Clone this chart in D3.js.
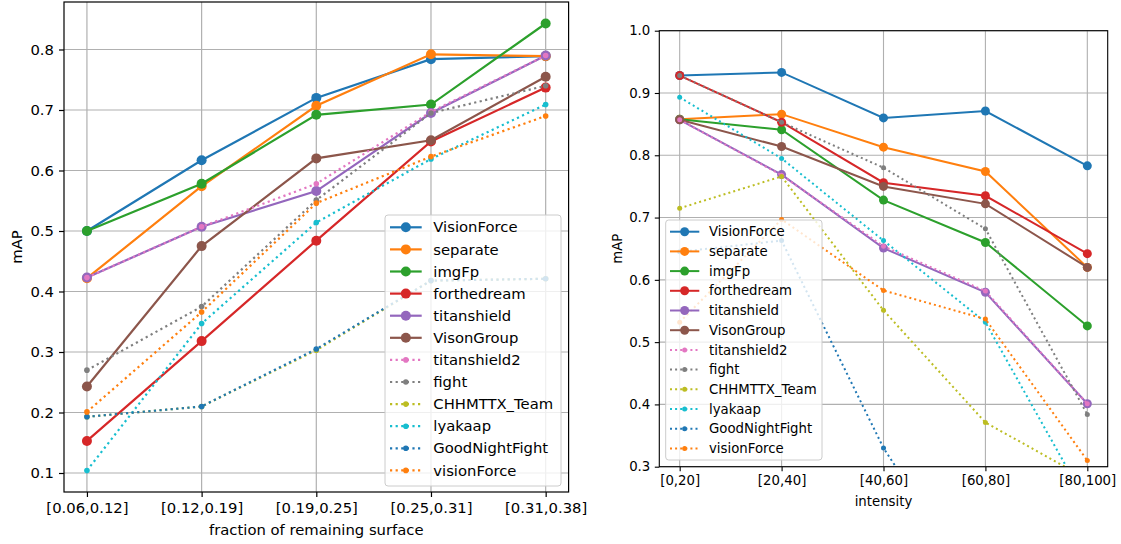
<!DOCTYPE html>
<html>
<head>
<meta charset="utf-8">
<script src="https://cdn.jsdelivr.net/npm/d3@7"></script>
<style>
  body { margin: 0; background: #fff; }
  svg { display: block; }
  text { font-family: "DejaVu Sans", sans-serif; fill: #000; }
</style>
</head>
<body>
<svg id="chart" width="1121" height="544"></svg>
<script>
// teams, in plotting order (tab10 colours, last six drawn dotted)
var teams = ["VisionForce", "separate", "imgFp", "forthedream", "titanshield", "VisonGroup",
             "titanshield2", "fight", "CHHMTTX_Team", "lyakaap", "GoodNightFight", "visionForce"];
var teamColors = ["#1f77b4", "#ff7f0e", "#2ca02c", "#d62728", "#9467bd", "#8c564b",
                  "#e377c2", "#7f7f7f", "#bcbd22", "#17becf", "#1f77b4", "#ff7f0e"];
var dottedTeams = ["titanshield2", "fight", "CHHMTTX_Team", "lyakaap", "GoodNightFight", "visionForce"];

// left panel: mAP vs fraction of remaining surface
var surfaceBins = ["[0.06,0.12]", "[0.12,0.19]", "[0.19,0.25]", "[0.25,0.31]", "[0.31,0.38]"];
var surfaceMAP = [
  [0.500, 0.617, 0.720, 0.784, 0.789],  // VisionForce
  [0.422, 0.574, 0.707, 0.792, 0.789],  // separate
  [0.500, 0.578, 0.692, 0.709, 0.843],  // imgFp
  [0.153, 0.318, 0.484, 0.648, 0.737],  // forthedream
  [0.423, 0.507, 0.566, 0.695, 0.790],  // titanshield
  [0.243, 0.475, 0.620, 0.650, 0.755],  // VisonGroup
  [0.423, 0.507, 0.578, 0.697, 0.790],  // titanshield2
  [0.270, 0.375, 0.551, 0.695, 0.740],  // fight
  [0.193, 0.210, 0.303, 0.418, 0.421],  // CHHMTTX_Team
  [0.104, 0.347, 0.514, 0.619, 0.709],  // lyakaap
  [0.193, 0.210, 0.305, 0.418, 0.421],  // GoodNightFight
  [0.201, 0.366, 0.546, 0.623, 0.690]   // visionForce
];
var surfaceTicks = [0.1, 0.2, 0.3, 0.4, 0.5, 0.6, 0.7, 0.8];

// right panel: mAP vs intensity
var intensityBins = ["[0,20]", "[20,40]", "[40,60]", "[60,80]", "[80,100]"];
var intensityMAP = [
  [0.928, 0.933, 0.860, 0.871, 0.783],  // VisionForce
  [0.858, 0.866, 0.813, 0.774, 0.620],  // separate
  [0.858, 0.841, 0.728, 0.660, 0.526],  // imgFp
  [0.928, 0.853, 0.756, 0.735, 0.642],  // forthedream
  [0.857, 0.769, 0.651, 0.580, 0.401],  // titanshield
  [0.857, 0.814, 0.750, 0.722, 0.620],  // VisonGroup
  [0.857, 0.768, 0.654, 0.582, 0.401],  // titanshield2
  [0.928, 0.853, 0.780, 0.682, 0.384],  // fight
  [0.715, 0.766, 0.551, 0.371, 0.280],  // CHHMTTX_Team
  [0.893, 0.795, 0.663, 0.532, 0.240],  // lyakaap
  [0.645, 0.663, 0.330, 0.080, 0.050],  // GoodNightFight
  [0.532, 0.697, 0.583, 0.537, 0.310]   // visionForce
];
var intensityTicks = [0.3, 0.4, 0.5, 0.6, 0.7, 0.8, 0.9, 1.0];

var svg = d3.select("#chart");

function drawPanel(p) {
  var g = svg.append("g");
  var fs = p.fontSize;

  var x = d3.scalePoint()
      .domain(p.bins)
      .range([p.left, p.right])
      .padding(0.2);

  var y = d3.scaleLinear()
      .domain(p.yDomain)
      .range([p.bottom, p.top]);

  // grid
  g.append("g").selectAll("line.gx")
    .data(p.bins).enter().append("line")
      .attr("x1", function(d) { return x(d); })
      .attr("x2", function(d) { return x(d); })
      .attr("y1", p.top).attr("y2", p.bottom)
      .attr("stroke", "#b0b0b0").attr("stroke-width", p.gridWidth);
  g.append("g").selectAll("line.gy")
    .data(p.yTicks).enter().append("line")
      .attr("x1", p.left).attr("x2", p.right)
      .attr("y1", function(d) { return y(d); })
      .attr("y2", function(d) { return y(d); })
      .attr("stroke", "#b0b0b0").attr("stroke-width", p.gridWidth);

  // axes
  var xAxis = g.append("g")
      .attr("transform", "translate(0," + p.bottom + ")")
      .call(d3.axisBottom(x).tickSize(p.tickLen).tickPadding(p.tickPad));
  var yAxis = g.append("g")
      .attr("transform", "translate(" + p.left + ",0)")
      .call(d3.axisLeft(y).tickValues(p.yTicks).tickFormat(d3.format(".1f"))
            .tickSize(p.tickLen).tickPadding(p.tickPad));
  [xAxis, yAxis].forEach(function(a) {
    a.select(".domain").remove();
    a.selectAll("line").attr("stroke", "#000").attr("stroke-width", p.gridWidth);
    a.selectAll("text").style("font-size", fs + "px").style("font-family", "DejaVu Sans");
  });

  // lines, clipped to the axes box
  var clipId = "clip" + p.id;
  g.append("clipPath").attr("id", clipId)
    .append("rect")
      .attr("x", p.left).attr("y", p.top)
      .attr("width", p.right - p.left).attr("height", p.bottom - p.top);
  var plot = g.append("g").attr("clip-path", "url(#" + clipId + ")");

  var line = d3.line()
      .x(function(d, i) { return x(p.bins[i]); })
      .y(function(d) { return y(d); });

  teams.forEach(function(name, k) {
    var dotted = dottedTeams.indexOf(name) >= 0;
    var vals = p.values[k];
    plot.append("path")
        .datum(vals)
        .attr("d", line)
        .attr("fill", "none")
        .attr("stroke", teamColors[k])
        .attr("stroke-width", dotted ? p.dotWidth : p.lineWidth)
        .attr("stroke-dasharray", dotted ? p.dash : null);
    plot.selectAll(null)
        .data(vals).enter().append("circle")
          .attr("cx", function(d, i) { return x(p.bins[i]); })
          .attr("cy", function(d) { return y(d); })
          .attr("r", dotted ? p.smallR : p.bigR)
          .attr("fill", teamColors[k]);
  });

  // frame
  g.append("rect")
      .attr("x", p.left).attr("y", p.top)
      .attr("width", p.right - p.left).attr("height", p.bottom - p.top)
      .attr("fill", "none").attr("stroke", "#000").attr("stroke-width", p.gridWidth);

  // axis labels
  g.append("text")
      .attr("x", (p.left + p.right) / 2).attr("y", p.xLabelY)
      .attr("text-anchor", "middle")
      .style("font-size", fs + "px")
      .text(p.xLabel);
  g.append("text")
      .attr("transform", "translate(" + p.yLabelX + "," + ((p.top + p.bottom) / 2) + ") rotate(-90)")
      .attr("text-anchor", "middle")
      .attr("dy", "0.35em")
      .style("font-size", fs + "px")
      .text("mAP");

  // legend
  var lg = g.append("g");
  lg.append("rect")
      .attr("x", p.legend.x).attr("y", p.legend.y)
      .attr("width", p.legend.w).attr("height", p.legend.h)
      .attr("rx", 3)
      .attr("fill", "#fff").attr("fill-opacity", 0.8)
      .attr("stroke", "#cccccc").attr("stroke-width", 1);
  teams.forEach(function(name, k) {
    var dotted = dottedTeams.indexOf(name) >= 0;
    var cy = p.legend.firstRow + k * p.legend.rowStep;
    var hx0 = p.legend.x + p.legend.handlePad;
    var hx1 = hx0 + p.legend.handleLen;
    lg.append("line")
        .attr("x1", hx0).attr("x2", hx1)
        .attr("y1", cy).attr("y2", cy)
        .attr("stroke", teamColors[k])
        .attr("stroke-width", dotted ? p.dotWidth : p.lineWidth)
        .attr("stroke-dasharray", dotted ? p.dash : null);
    lg.append("circle")
        .attr("cx", (hx0 + hx1) / 2).attr("cy", cy)
        .attr("r", dotted ? p.smallR : p.bigR)
        .attr("fill", teamColors[k]);
    lg.append("text")
        .attr("x", hx1 + p.legend.textGap).attr("y", cy)
        .attr("dy", "0.35em")
        .style("font-size", fs + "px")
        .text(name);
  });
}

drawPanel({
  id: "L", bins: surfaceBins, values: surfaceMAP, yTicks: surfaceTicks,
  yDomain: [0.0686, 0.8785],
  left: 64, right: 568.6, top: 2, bottom: 492,
  fontSize: 14.8, tickLen: 5, tickPad: 5, gridWidth: 1.2,
  lineWidth: 2.2, dotWidth: 2.2, dash: "2.2,3.4", bigR: 5, smallR: 2.8,
  xLabel: "fraction of remaining surface", xLabelY: 535, yLabelX: 17,
  legend: { x: 385, y: 215, w: 176, h: 271, firstRow: 227.3, rowStep: 22.1,
            handlePad: 5, handleLen: 31.7, textGap: 11.6 }
});

drawPanel({
  id: "R", bins: intensityBins, values: intensityMAP, yTicks: intensityTicks,
  yDomain: [0.3, 1.0],
  left: 659.3, right: 1107.7, top: 30.7, bottom: 466.7,
  fontSize: 13.3, tickLen: 4.5, tickPad: 4.5, gridWidth: 1.1,
  lineWidth: 2, dotWidth: 2, dash: "2,3.1", bigR: 4.5, smallR: 2.5,
  xLabel: "intensity", xLabelY: 506, yLabelX: 617,
  legend: { x: 665.7, y: 220, w: 156.3, h: 240, firstRow: 231.7, rowStep: 19.7,
            handlePad: 4.3, handleLen: 29.3, textGap: 9.7 }
});
</script>
</body>
</html>
